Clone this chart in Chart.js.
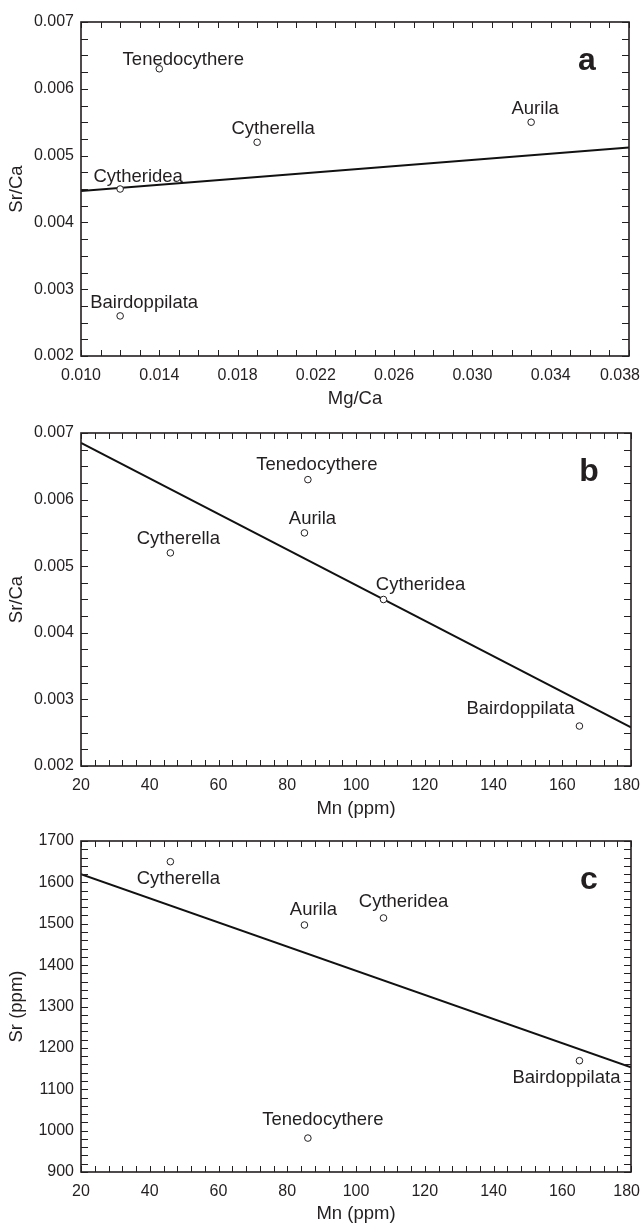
<!DOCTYPE html>
<html>
<head>
<meta charset="utf-8">
<title>Sr/Ca, Mg/Ca and Mn in ostracods</title>
<script src="https://cdn.jsdelivr.net/npm/chart.js@4/dist/chart.umd.min.js"></script>
<style>
html, body { margin: 0; padding: 0; background: #fff; overflow: hidden; }
canvas { position: absolute; left: 0; }
</style>
</head>
<body>
<canvas id="chartA" width="642" height="410" style="top:0"></canvas>
<canvas id="chartB" width="642" height="410" style="top:410px"></canvas>
<canvas id="chartC" width="642" height="405" style="top:820px"></canvas>
<script>
// Species, same order in every panel
const species = ['Tenedocythere', 'Cytherella', 'Aurila', 'Cytheridea', 'Bairdoppilata'];
const mgCa  = [0.0140, 0.0190, 0.0330, 0.0120, 0.0120];
const srCa  = [0.0063, 0.0052, 0.0055, 0.0045, 0.0026];
const mnPpm = [86, 46, 85, 108, 165];
const srPpm = [982, 1650, 1497, 1514, 1169];

// regression lines, end points
const fitMgCa   = [0.010, 0.038];
const fitSrCaA  = [0.00447, 0.00512];
const fitMn     = [20, 180];
const fitSrCaB  = [0.00685, 0.00258];
const fitSrPpmC = [1620, 1153];

// tick labels
const mgCaTicks  = [0.010, 0.014, 0.018, 0.022, 0.026, 0.030, 0.034, 0.038];
const srCaTicks  = [0.002, 0.003, 0.004, 0.005, 0.006, 0.007];
const mnTicks    = [20, 40, 60, 80, 100, 120, 140, 160, 180];
const srPpmTicks = [900, 1000, 1100, 1200, 1300, 1400, 1500, 1600, 1700];

// where each species name sits relative to its point (px: centre x, baseline y)
const labelOffsetsA = [[24, -4], [16, -8], [4, -8], [18, -7], [24, -8]];
const labelOffsetsB = [[9, -10], [8, -9], [8, -9], [37, -10], [-59, -12]];
const labelOffsetsC = [[15, -13], [8, 22], [9, -10], [20, -11], [-13, 22]];

const ink = '#231f20';
const family = "'Liberation Sans', Arial, Helvetica, sans-serif";
Chart.defaults.font.family = family;
Chart.defaults.color = ink;

const toPoints = (xs, ys) => xs.map((v, i) => ({ x: v, y: ys[i] }));

// frame, inward ticks on all sides, x tick labels, species names, panel letter
function panelDecor(cfg) {
    return {
        id: 'panelDecor',
        afterDatasetsDraw(chart) {
            const { ctx, chartArea: a, scales: { x, y } } = chart;
            ctx.save();
            ctx.strokeStyle = ink;
            ctx.lineWidth = 1;
            ctx.beginPath();
            const nx = Math.round((x.max - x.min) / cfg.xMinor);
            for (let i = 0; i <= nx; i++) {
                const px = Math.round(x.getPixelForValue(x.min + i * cfg.xMinor)) + 0.5;
                ctx.moveTo(px, a.bottom); ctx.lineTo(px, a.bottom - 6);
                ctx.moveTo(px, a.top); ctx.lineTo(px, a.top + 6);
            }
            const ny = Math.round((y.max - y.min) / cfg.yMinor);
            for (let i = 0; i <= ny; i++) {
                const py = Math.round(y.getPixelForValue(y.min + i * cfg.yMinor)) + 0.5;
                ctx.moveTo(a.left, py); ctx.lineTo(a.left + 7, py);
                ctx.moveTo(a.right, py); ctx.lineTo(a.right - 7, py);
            }
            ctx.stroke();
            ctx.lineWidth = 1.6;
            ctx.strokeRect(a.left, a.top, a.right - a.left, a.bottom - a.top);

            // x tick labels (kept inside the page at the right edge)
            ctx.fillStyle = ink;
            ctx.font = '16px ' + family;
            ctx.textBaseline = 'alphabetic';
            ctx.textAlign = 'left';
            cfg.xTicks.forEach(v => {
                const t = cfg.xFormat(v);
                const w = ctx.measureText(t).width;
                let left = x.getPixelForValue(v) - w / 2;
                left = Math.min(left, 640 - w);
                ctx.fillText(t, left, a.bottom + 23.5);
            });

            // species names
            ctx.font = '18.5px ' + family;
            ctx.textAlign = 'center';
            species.forEach((name, i) => {
                const px = x.getPixelForValue(cfg.xs[i]);
                const py = y.getPixelForValue(cfg.ys[i]);
                const [dx, dy] = cfg.offsets[i];
                ctx.fillText(name, px + dx, py + dy);
            });

            // panel letter
            ctx.font = 'bold 32px ' + family;
            ctx.fillText(cfg.letter, a.right - 42, a.top + 48);
            ctx.restore();
        }
    };
}

function makePanel(id, cfg) {
    return new Chart(document.getElementById(id), {
        type: 'scatter',
        data: {
            datasets: [{
                data: toPoints(cfg.xs, cfg.ys),
                pointStyle: 'circle',
                pointRadius: 3.3,
                borderWidth: 1,
                borderColor: ink,
                backgroundColor: '#fff',
                order: 0
            }, {
                type: 'line',
                data: toPoints(cfg.fitX, cfg.fitY),
                borderColor: '#111',
                borderWidth: 2,
                pointRadius: 0,
                order: 1
            }]
        },
        options: {
            responsive: false,
            animation: false,
            layout: { padding: { top: cfg.padTop, right: cfg.padRight, left: 0, bottom: 0 } },
            plugins: { legend: { display: false }, tooltip: { enabled: false } },
            scales: {
                x: {
                    type: 'linear',
                    min: cfg.xMin,
                    max: cfg.xMax,
                    grid: { display: false, drawTicks: false },
                    border: { display: false },
                    ticks: { display: false },
                    afterBuildTicks: s => { s.ticks = cfg.xTicks.map(v => ({ value: v })); },
                    afterFit: s => { s.height = cfg.xAxisH; s.paddingLeft = 0; s.paddingRight = 0; },
                    title: {
                        display: true,
                        text: cfg.xTitle,
                        font: { size: 18.5 },
                        padding: { top: 0, bottom: 0 }
                    }
                },
                y: {
                    type: 'linear',
                    min: cfg.yMin,
                    max: cfg.yMax,
                    grid: { display: false, drawTicks: false },
                    border: { display: false },
                    afterBuildTicks: s => { s.ticks = cfg.yTicks.map(v => ({ value: v })); },
                    afterFit: s => { s.width = 81; s.paddingTop = 0; s.paddingBottom = 0; },
                    ticks: {
                        padding: 7,
                        font: { size: 16 },
                        callback: v => cfg.yFormat(v)
                    },
                    title: {
                        display: true,
                        text: cfg.yTitle,
                        font: { size: 18.5 },
                        padding: { top: 6, bottom: 0 }
                    }
                }
            }
        },
        plugins: [panelDecor(cfg)]
    });
}

const fmt3 = v => v.toFixed(3);
const fmtInt = v => String(v);

makePanel('chartA', {
    xs: mgCa, ys: srCa, fitX: fitMgCa, fitY: fitSrCaA,
    xMin: 0.010, xMax: 0.038, xMinor: 0.001, xTicks: mgCaTicks, xFormat: fmt3,
    yMin: 0.002, yMax: 0.007, yMinor: 0.00025, yTicks: srCaTicks, yFormat: fmt3,
    xTitle: 'Mg/Ca', yTitle: 'Sr/Ca',
    offsets: labelOffsetsA, letter: 'a',
    padTop: 22, padRight: 13, xAxisH: 54
});

makePanel('chartB', {
    xs: mnPpm, ys: srCa, fitX: fitMn, fitY: fitSrCaB,
    xMin: 20, xMax: 180, xMinor: 4, xTicks: mnTicks, xFormat: fmtInt,
    yMin: 0.002, yMax: 0.007, yMinor: 0.00025, yTicks: srCaTicks, yFormat: fmt3,
    xTitle: 'Mn (ppm)', yTitle: 'Sr/Ca',
    offsets: labelOffsetsB, letter: 'b',
    padTop: 23, padRight: 11, xAxisH: 54
});

makePanel('chartC', {
    xs: mnPpm, ys: srPpm, fitX: fitMn, fitY: fitSrPpmC,
    xMin: 20, xMax: 180, xMinor: 4, xTicks: mnTicks, xFormat: fmtInt,
    yMin: 900, yMax: 1700, yMinor: 20, yTicks: srPpmTicks, yFormat: fmtInt,
    xTitle: 'Mn (ppm)', yTitle: 'Sr (ppm)',
    offsets: labelOffsetsC, letter: 'c',
    padTop: 21, padRight: 11, xAxisH: 53
});
</script>
</body>
</html>
